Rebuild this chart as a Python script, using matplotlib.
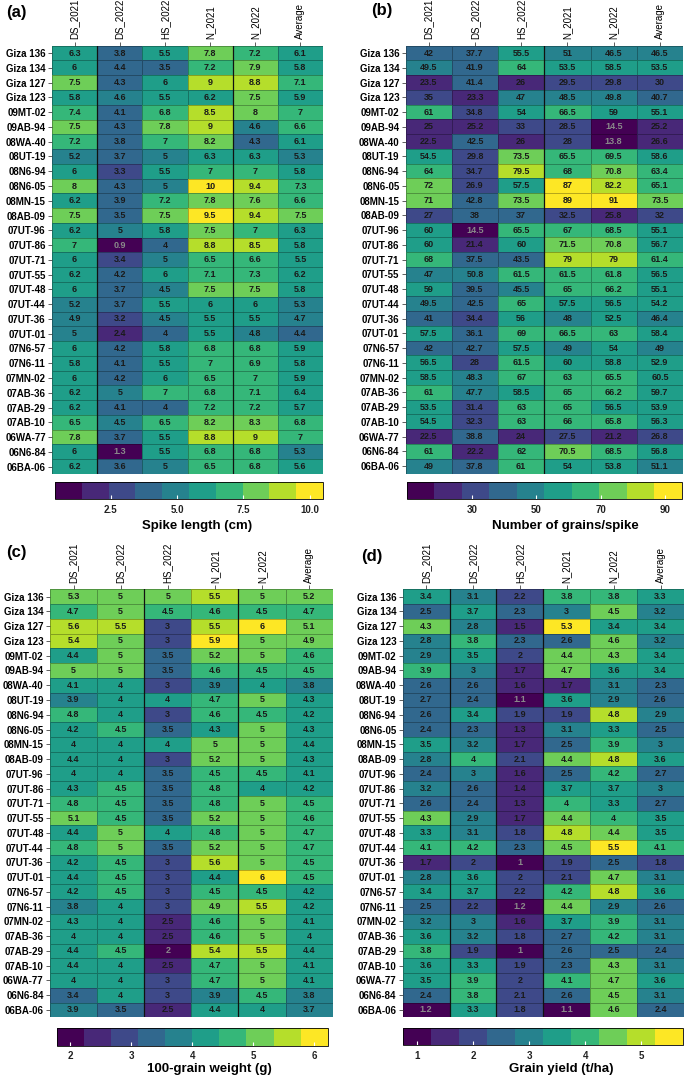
import numpy as np
import matplotlib.pyplot as plt
from matplotlib.colors import Normalize

plt.rcParams["font.family"] = ["Liberation Sans", "DejaVu Sans"]

# rows and columns shared by all four heatmaps
genotypes = ["Giza 136", "Giza 134", "Giza 127", "Giza 123", "09MT-02", "09AB-94",
             "08WA-40", "08UT-19", "08N6-94", "08N6-05", "08MN-15", "08AB-09",
             "07UT-96", "07UT-86", "07UT-71", "07UT-55", "07UT-48", "07UT-44",
             "07UT-36", "07UT-01", "07N6-57", "07N6-11", "07MN-02", "07AB-36",
             "07AB-29", "07AB-10", "06WA-77", "06N6-84", "06BA-06"]
seasons = ["DS_2021", "DS_2022", "HS_2022", "N_2021", "N_2022", "Average"]

# (a) spike length (cm)
spike_length = [
    [6.3, 3.8, 5.5, 7.8, 7.2, 6.1], [6, 4.4, 3.5, 7.2, 7.9, 5.8],
    [7.5, 4.3, 6, 9, 8.8, 7.1], [5.8, 4.6, 5.5, 6.2, 7.5, 5.9],
    [7.4, 4.1, 6.8, 8.5, 8, 7], [7.5, 4.3, 7.8, 9, 4.6, 6.6],
    [7.2, 3.8, 7, 8.2, 4.3, 6.1], [5.2, 3.7, 5, 6.3, 6.3, 5.3],
    [6, 3.3, 5.5, 7, 7, 5.8], [8, 4.3, 5, 10, 9.4, 7.3],
    [6.2, 3.9, 7.2, 7.8, 7.6, 6.6], [7.5, 3.5, 7.5, 9.5, 9.4, 7.5],
    [6.2, 5, 5.8, 7.5, 7, 6.3], [7, 0.9, 4, 8.8, 8.5, 5.8],
    [6, 3.4, 5, 6.5, 6.6, 5.5], [6.2, 4.2, 6, 7.1, 7.3, 6.2],
    [6, 3.7, 4.5, 7.5, 7.5, 5.8], [5.2, 3.7, 5.5, 6, 6, 5.3],
    [4.9, 3.2, 4.5, 5.5, 5.5, 4.7], [5, 2.4, 4, 5.5, 4.8, 4.4],
    [6, 4.2, 5.8, 6.8, 6.8, 5.9], [5.8, 4.1, 5.5, 7, 6.9, 5.8],
    [6, 4.2, 6, 6.5, 7, 5.9], [6.2, 5, 7, 6.8, 7.1, 6.4],
    [6.2, 4.1, 4, 7.2, 7.2, 5.7], [6.5, 4.5, 6.5, 8.2, 8.3, 6.8],
    [7.8, 3.7, 5.5, 8.8, 9, 7], [6, 1.3, 5.5, 6.8, 6.8, 5.3],
    [6.2, 3.6, 5, 6.5, 6.8, 5.6]]

# (b) number of grains per spike
grains_spike = [
    [42, 37.7, 55.5, 51, 46.5, 46.5], [49.5, 41.9, 64, 53.5, 58.5, 53.5],
    [23.5, 41.4, 26, 29.5, 29.8, 30], [35, 23.3, 47, 48.5, 49.8, 40.7],
    [61, 34.8, 54, 66.5, 59, 55.1], [25, 25.2, 33, 28.5, 14.5, 25.2],
    [22.5, 42.5, 26, 28, 13.8, 26.6], [54.5, 29.8, 73.5, 65.5, 69.5, 58.6],
    [64, 34.7, 79.5, 68, 70.8, 63.4], [72, 26.9, 57.5, 87, 82.2, 65.1],
    [71, 42.8, 73.5, 89, 91, 73.5], [27, 38, 37, 32.5, 25.8, 32],
    [60, 14.5, 65.5, 67, 68.5, 55.1], [60, 21.4, 60, 71.5, 70.8, 56.7],
    [68, 37.5, 43.5, 79, 79, 61.4], [47, 50.8, 61.5, 61.5, 61.8, 56.5],
    [59, 39.5, 45.5, 65, 66.2, 55.1], [49.5, 42.5, 65, 57.5, 56.5, 54.2],
    [41, 34.4, 56, 48, 52.5, 46.4], [57.5, 36.1, 69, 66.5, 63, 58.4],
    [42, 42.7, 57.5, 49, 54, 49], [56.5, 28, 61.5, 60, 58.8, 52.9],
    [58.5, 48.3, 67, 63, 65.5, 60.5], [61, 47.7, 58.5, 65, 66.2, 59.7],
    [53.5, 31.4, 63, 65, 56.5, 53.9], [54.5, 32.3, 63, 66, 65.8, 56.3],
    [22.5, 38.8, 24, 27.5, 21.2, 26.8], [61, 22.2, 62, 70.5, 68.5, 56.8],
    [49, 37.8, 61, 54, 53.8, 51.1]]

# (c) 100-grain weight (g)
grain_weight = [
    [5.3, 5, 5, 5.5, 5, 5.2], [4.7, 5, 4.5, 4.6, 4.5, 4.7],
    [5.6, 5.5, 3, 5.5, 6, 5.1], [5.4, 5, 3, 5.9, 5, 4.9],
    [4.4, 5, 3.5, 5.2, 5, 4.6], [5, 5, 3.5, 4.6, 4.5, 4.5],
    [4.1, 4, 3, 3.9, 4, 3.8], [3.9, 4, 4, 4.7, 5, 4.3],
    [4.8, 4, 3, 4.6, 4.5, 4.2], [4.2, 4.5, 3.5, 4.3, 5, 4.3],
    [4, 4, 4, 5, 5, 4.4], [4.4, 4, 3, 5.2, 5, 4.3],
    [4, 4, 3.5, 4.5, 4.5, 4.1], [4.3, 4.5, 3.5, 4.8, 4, 4.2],
    [4.8, 4.5, 3.5, 4.8, 5, 4.5], [5.1, 4.5, 3.5, 5.2, 5, 4.6],
    [4.4, 5, 4, 4.8, 5, 4.7], [4.8, 5, 3.5, 5.2, 5, 4.7],
    [4.2, 4.5, 3, 5.6, 5, 4.5], [4.4, 4.5, 3, 4.4, 6, 4.5],
    [4.2, 4.5, 3, 4.5, 4.5, 4.2], [3.8, 4, 3, 4.9, 5.5, 4.2],
    [4.3, 4, 2.5, 4.6, 5, 4.1], [4, 4, 2.5, 4.6, 5, 4],
    [4.4, 4.5, 2, 5.4, 5.5, 4.4], [4.4, 4, 2.5, 4.7, 5, 4.1],
    [4, 4, 3, 4.7, 5, 4.1], [3.4, 4, 3, 3.9, 4.5, 3.8],
    [3.9, 3.5, 2.5, 4.4, 4, 3.7]]

# (d) grain yield (t/ha)
grain_yield = [
    [3.4, 3.1, 2.2, 3.8, 3.8, 3.3], [2.5, 3.7, 2.3, 3, 4.5, 3.2],
    [4.3, 2.8, 1.5, 5.3, 3.4, 3.4], [2.8, 3.8, 2.3, 2.6, 4.6, 3.2],
    [2.9, 3.5, 2, 4.4, 4.3, 3.4], [3.9, 3, 1.7, 4.7, 3.6, 3.4],
    [2.6, 2.6, 1.6, 1.7, 3.1, 2.3], [2.7, 2.4, 1.1, 3.6, 2.9, 2.6],
    [2.6, 3.4, 1.9, 1.9, 4.8, 2.9], [2.4, 2.3, 1.3, 3.1, 3.3, 2.5],
    [3.5, 3.2, 1.7, 2.5, 3.9, 3], [2.8, 4, 2.1, 4.4, 4.8, 3.6],
    [2.4, 3, 1.6, 2.5, 4.2, 2.7], [3.2, 2.6, 1.4, 3.7, 3.7, 3],
    [2.6, 2.4, 1.3, 4, 3.3, 2.7], [4.3, 2.9, 1.7, 4.4, 4, 3.5],
    [3.3, 3.1, 1.8, 4.8, 4.4, 3.5], [4.1, 4.2, 2.3, 4.5, 5.5, 4.1],
    [1.7, 2, 1, 1.9, 2.5, 1.8], [2.8, 3.6, 2, 2.1, 4.7, 3.1],
    [3.4, 3.7, 2.2, 4.2, 4.8, 3.6], [2.5, 2.2, 1.2, 4.4, 2.9, 2.6],
    [3.2, 3, 1.6, 3.7, 3.9, 3.1], [3.6, 3.2, 1.8, 2.7, 4.2, 3.1],
    [3.8, 1.9, 1, 2.6, 2.5, 2.4], [3.6, 3.3, 1.9, 2.3, 4.3, 3.1],
    [3.5, 3.9, 2, 4.1, 4.7, 3.6], [2.4, 3.8, 2.1, 2.6, 4.5, 3.1],
    [1.2, 3.3, 1.8, 1.1, 4.6, 2.4]]

W, H = 685, 1079
fig = plt.figure(figsize=(W / 100, H / 100), dpi=100)


def rect(l, t, r, b):
    # pixel box -> figure fraction
    return [l / W, 1 - b / H, (r - l) / W, (b - t) / H]


panels = [
    dict(tag="(a)", tagxy=(6, 12), data=spike_length, lim=(0.4, 10.5),
         ticks=[2.5, 5.0, 7.5, 10.0], tfmt="{:.1f}", label="Spike length (cm)",
         labxy=(197, 526), heat=(52, 45.7, 323, 474), cbar=(55, 482, 323, 499),
         lines=[1, 4]),
    dict(tag="(b)", tagxy=(371, 10), data=grains_spike, lim=(9.6, 95.2),
         ticks=[30, 50, 70, 90], tfmt="{:.0f}", label="Number of grains/spike",
         labxy=(565, 526), heat=(405.7, 45.7, 683, 473.5), cbar=(406.7, 482, 681.7, 499),
         lines=[3]),
    dict(tag="(c)", tagxy=(6, 553), data=grain_weight, lim=(1.78, 6.22),
         ticks=[2, 3, 4, 5, 6], tfmt="{:.0f}", label="100-grain weight (g)",
         labxy=(209, 1069), heat=(50, 589.3, 332.7, 1017.3), cbar=(56.7, 1028, 327.7, 1045.7),
         lines=[2, 4]),
    dict(tag="(d)", tagxy=(361, 557), data=grain_yield, lim=(0.75, 5.75),
         ticks=[1, 2, 3, 4, 5], tfmt="{:.0f}", label="Grain yield (t/ha)",
         labxy=(561, 1069), heat=(402.7, 589.3, 684, 1017.3), cbar=(403.3, 1028, 683.3, 1045.3),
         lines=[1, 2, 3]),
]

cmap = plt.get_cmap("viridis", 10)

for p in panels:
    vals = np.array(p["data"])
    nr, nc = vals.shape
    norm = Normalize(*p["lim"])
    ax = fig.add_axes(rect(*p["heat"]))
    mesh = ax.pcolormesh(vals, cmap=cmap, norm=norm,
                         edgecolors=(0, 0, 0, 0.28), linewidth=0.5)
    ax.set_xlim(0, nc)
    ax.set_ylim(nr, 0)
    ax.xaxis.tick_top()
    ax.set_xticks(np.arange(nc) + 0.5)
    ax.set_xticklabels(seasons, rotation=90, fontsize=7)
    ax.set_yticks(np.arange(nr) + 0.5)
    ax.set_yticklabels(genotypes, fontsize=7, fontweight="bold")
    ax.tick_params(length=3, width=0.6, pad=1.5, color="#444444")
    for s in ax.spines.values():
        s.set_visible(False)
    for x in p["lines"]:
        ax.axvline(x, color="#111111", lw=0.9)

    for i in range(nr):
        for j in range(nc):
            r, g, b, _ = cmap(norm(vals[i, j]))
            lum = 0.299 * r + 0.587 * g + 0.114 * b
            tc = "#8a8a8a" if lum < 0.22 else "#1a1a1a"
            ax.text(j + 0.5, i + 0.5, f"{vals[i, j]:g}", ha="center", va="center",
                    fontsize=6.5, fontweight="bold", color=tc)

    cax = fig.add_axes(rect(*p["cbar"]))
    cb = fig.colorbar(mesh, cax=cax, orientation="horizontal")
    cb.set_ticks(p["ticks"])
    cb.set_ticklabels([p["tfmt"].format(t) for t in p["ticks"]])
    cb.ax.tick_params(labelsize=7, length=3, width=0.8, color="white",
                      direction="in", pad=4, labelcolor="#222222")
    for t in cb.ax.get_xticklabels():
        t.set_fontweight("bold")
    cb.outline.set_linewidth(0.6)

    fig.text(p["labxy"][0] / W, 1 - p["labxy"][1] / H, p["label"], ha="center",
             va="center", fontsize=9.5, fontweight="bold")
    fig.text(p["tagxy"][0] / W, 1 - p["tagxy"][1] / H, p["tag"], ha="left",
             va="center", fontsize=12, fontweight="bold")

fig.savefig("out.png", dpi=100)
